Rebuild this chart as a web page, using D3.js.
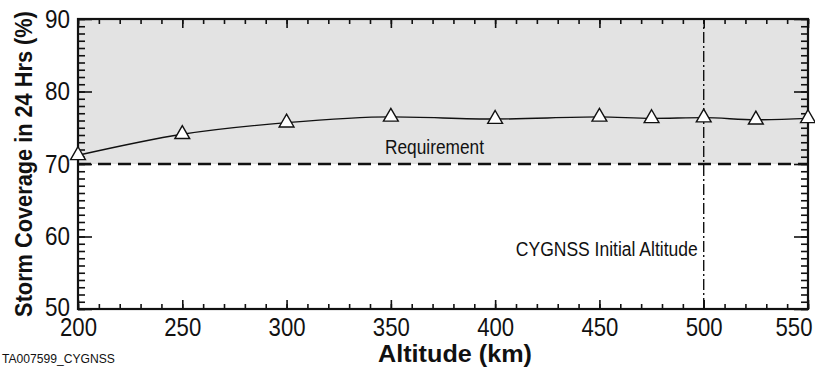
<!DOCTYPE html>
<html>
<head>
<meta charset="utf-8">
<script src="https://cdn.jsdelivr.net/npm/d3@7"></script>
<style>
  html, body { margin: 0; padding: 0; background: #fff; }
  svg { display: block; }
  text { font-family: "Liberation Sans", Arial, sans-serif; fill: #111; }
</style>
</head>
<body>
<svg id="chart" width="815" height="367"></svg>
<script>
// Storm coverage over 24 hours as a function of orbit altitude
const altitudes = [200, 250, 300, 350, 400, 450, 475, 500, 525, 550];
const coverage  = [71.2, 74.1, 75.7, 76.5, 76.2, 76.5, 76.3, 76.4, 76.1, 76.3];

const requirement = 70;          // % coverage required
const initialAltitude = 500;     // km
const xTicks = [200, 250, 300, 350, 400, 450, 500, 550];
const yTicks = [50, 60, 70, 80, 90];
const xDomain = [200, 550];
const yDomain = [50, 90];

const svg = d3.select("#chart");
const W = 815, H = 367;
const m = { left: 78, right: W - 808, top: 19, bottom: H - 309 };

const x = d3.scaleLinear().domain(xDomain).range([m.left, W - m.right]);
const y = d3.scaleLinear().domain(yDomain).range([H - m.bottom, m.top]);

// condensed lettering: scale a text run horizontally to a given width
function narrow(sel, w) {
  sel.each(function () {
    const t = d3.select(this);
    const s = w / this.getComputedTextLength();
    const x0 = +t.attr("x") || 0;
    t.attr("x", x0 / s).attr("transform", `scale(${s},1)`);
  });
}

// shaded region above the requirement
svg.append("rect")
  .attr("x", x(xDomain[0])).attr("y", y(yDomain[1]))
  .attr("width", x(xDomain[1]) - x(xDomain[0]))
  .attr("height", y(requirement) - y(yDomain[1]))
  .attr("fill", "#e3e3e3");

// requirement line
svg.append("line")
  .attr("x1", x(xDomain[0])).attr("x2", x(xDomain[1]))
  .attr("y1", y(requirement)).attr("y2", y(requirement))
  .attr("stroke", "#111").attr("stroke-width", 2.6)
  .attr("stroke-dasharray", "13,7");

// initial altitude marker
svg.append("line")
  .attr("x1", x(initialAltitude)).attr("x2", x(initialAltitude))
  .attr("y1", y(yDomain[0])).attr("y2", y(yDomain[1]))
  .attr("stroke", "#111").attr("stroke-width", 1.4)
  .attr("stroke-dasharray", "11,3,2,3");

// axes with inward ticks on all four sides
const minorX = d3.range(200, 551, 10);
const minorY = d3.range(50, 91, 1);
function ticks(axis, vals, size) {
  return axis.tickValues(vals).tickSizeInner(size).tickSizeOuter(0).tickFormat("");
}
const axisStyle = g => {
  g.select(".domain").remove();
  g.selectAll("line").attr("stroke", "#111").attr("stroke-width", 1.6);
};
svg.append("g").attr("transform", `translate(0,${y(yDomain[0])})`)
  .call(ticks(d3.axisTop(x), minorX, 5)).call(axisStyle);
svg.append("g").attr("transform", `translate(0,${y(yDomain[0])})`)
  .call(ticks(d3.axisTop(x), xTicks, 9)).call(axisStyle);
svg.append("g").attr("transform", `translate(0,${y(yDomain[1])})`)
  .call(ticks(d3.axisBottom(x), minorX, 5)).call(axisStyle);
svg.append("g").attr("transform", `translate(0,${y(yDomain[1])})`)
  .call(ticks(d3.axisBottom(x), xTicks, 9)).call(axisStyle);
svg.append("g").attr("transform", `translate(${x(xDomain[0])},0)`)
  .call(ticks(d3.axisRight(y), minorY, 7)).call(axisStyle);
svg.append("g").attr("transform", `translate(${x(xDomain[0])},0)`)
  .call(ticks(d3.axisRight(y), yTicks, 14)).call(axisStyle);
svg.append("g").attr("transform", `translate(${x(xDomain[1])},0)`)
  .call(ticks(d3.axisLeft(y), minorY, 7)).call(axisStyle);
svg.append("g").attr("transform", `translate(${x(xDomain[1])},0)`)
  .call(ticks(d3.axisLeft(y), yTicks, 14)).call(axisStyle);

// frame
svg.append("rect")
  .attr("x", x(xDomain[0])).attr("y", y(yDomain[1]))
  .attr("width", x(xDomain[1]) - x(xDomain[0]))
  .attr("height", y(yDomain[0]) - y(yDomain[1]))
  .attr("fill", "none").attr("stroke", "#111").attr("stroke-width", 2.2);

// tick labels
const xLab = d3.axisBottom(x).tickValues(xTicks).tickSize(0).tickPadding(9).tickFormat(d3.format("d"));
const xText = svg.append("g").attr("transform", `translate(0,${y(yDomain[0])})`).call(xLab)
  .call(g => g.select(".domain").remove())
  .selectAll("text").attr("font-size", 25).attr("font-family", null).attr("fill", "#111");
xText.filter(d => d === xDomain[1]).attr("text-anchor", "end").attr("x", 4);
xText.call(narrow, 37);
const yLab = d3.axisLeft(y).tickValues(yTicks).tickSize(0).tickPadding(8).tickFormat(d3.format("d"));
const yText = svg.append("g").attr("transform", `translate(${x(xDomain[0])},0)`).call(yLab)
  .call(g => g.select(".domain").remove())
  .selectAll("text").attr("font-size", 25).attr("font-family", null).attr("fill", "#111");
yText.filter(d => d === yDomain[0]).attr("y", -2);
yText.call(narrow, 25);

// coverage curve
const line = d3.line().x((d, i) => x(altitudes[i])).y(d => y(d)).curve(d3.curveMonotoneX);
svg.append("path").datum(coverage)
  .attr("d", line).attr("fill", "none").attr("stroke", "#111").attr("stroke-width", 1.4);

svg.append("g").selectAll("path").data(coverage).join("path")
  .attr("transform", (d, i) => `translate(${x(altitudes[i])},${y(d)})`)
  .attr("d", d3.symbol(d3.symbolTriangle, 95))
  .attr("fill", "#fff").attr("stroke", "#111").attr("stroke-width", 1.4);

// annotations
svg.append("g").attr("transform", `translate(385,${y(requirement) - 10})`)
  .append("text").attr("font-size", 20).text("Requirement").call(narrow, 99);
svg.append("g").attr("transform", `translate(${x(initialAltitude) - 6},${y(57.3)})`)
  .append("text").attr("text-anchor", "end").attr("font-size", 20)
  .text("CYGNSS Initial Altitude").call(narrow, 182);

// axis titles
svg.append("g")
  .attr("transform", `translate(32,${(y(yDomain[0]) + y(yDomain[1])) / 2}) rotate(-90)`)
  .append("text").attr("text-anchor", "middle").attr("font-size", 24).attr("font-weight", "bold")
  .text("Storm Coverage in 24 Hrs (%)").call(narrow, 306);
svg.append("g").attr("transform", "translate(455,362)")
  .append("text").attr("text-anchor", "middle").attr("font-size", 24).attr("font-weight", "bold")
  .text("Altitude (km)").call(narrow, 154);
svg.append("g").attr("transform", "translate(2,363)")
  .append("text").attr("font-size", 13)
  .text("TA007599_CYGNSS").call(narrow, 113);
</script>
</body>
</html>
